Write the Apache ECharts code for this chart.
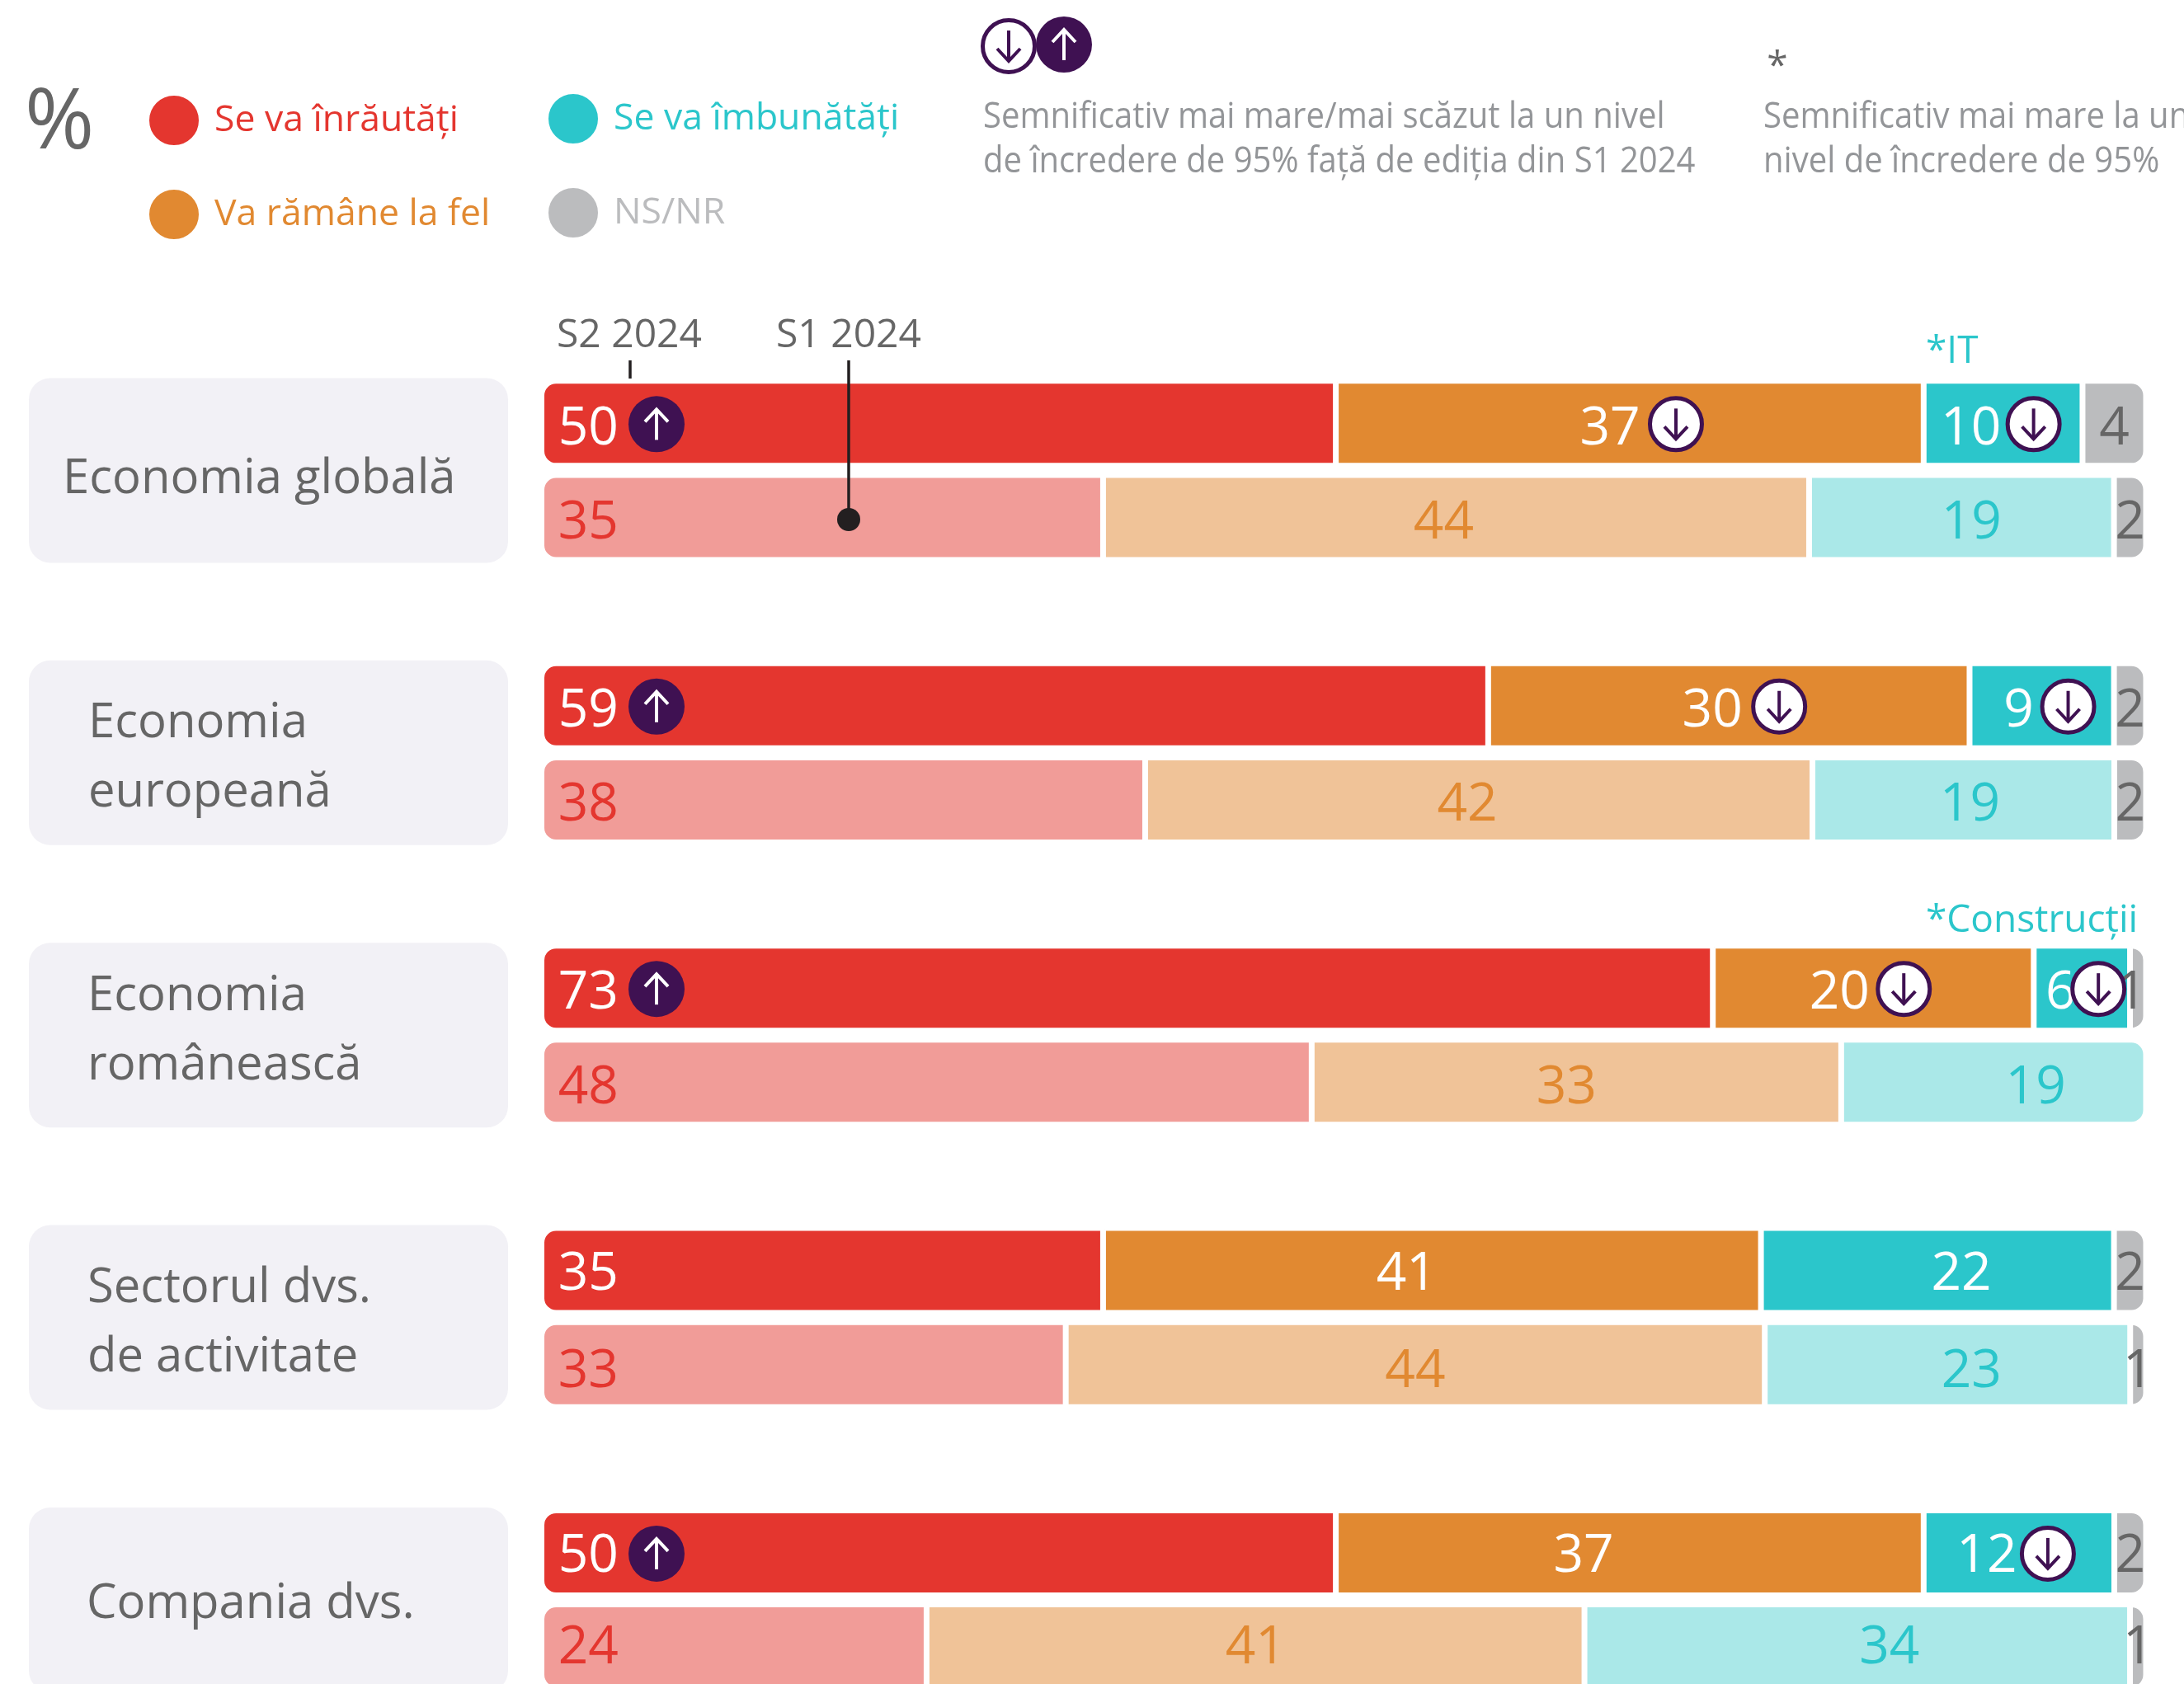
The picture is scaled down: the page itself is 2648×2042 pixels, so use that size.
<!DOCTYPE html>
<html><head><meta charset="utf-8">
<style>html,body{margin:0;padding:0;background:#fff;overflow:hidden}#wrap{width:2648px;height:2042px;overflow:hidden}#c{width:2648px;height:2160px}</style>
<script src="https://cdn.jsdelivr.net/npm/echarts@6/dist/echarts.min.js"></script>
</head><body><div id="wrap"><div id="c"></div></div>
<script>
// ---- data ----
const rowNames = ['Economia globală', 'Economia\neuropeană', 'Economia\nromânească', 'Sectorul dvs.\nde activitate', 'Compania dvs.'];
const periods = ['S2 2024', 'S1 2024'];
const seriesNames = ['Se va înrăutăți', 'Va rămâne la fel', 'Se va îmbunătăți', 'NS/NR'];
const worseS2  = [50, 59, 73, 35, 50];
const sameS2   = [37, 30, 20, 41, 37];
const betterS2 = [10,  9,  6, 22, 12];
const nsS2     = [ 4,  2,  1,  2,  2];
const worseS1  = [35, 38, 48, 33, 24];
const sameS1   = [44, 42, 33, 44, 41];
const betterS1 = [19, 19, 19, 23, 34];
const nsS1     = [ 2,  2, null, 1,  1];
// significance flags for S2 2024 (u = higher, d = lower)
const sigWorse  = ['u', 'u', 'u', null, 'u'];
const sigSame   = ['d', 'd', 'd', null, null];
const sigBetter = ['d', 'd', 'd', null, 'd'];
const notes = {0: '*IT', 2: '*Construcții'};
const note1 = 'Semnificativ mai mare/mai scăzut la un nivel\nde încredere de 95% față de ediția din S1 2024';
const note2 = 'Semnificativ mai mare la un\nnivel de încredere de 95%';

// ---- layout and style ----
const FONT = '"Open Sans"';
const RED='#E4362F', ORANGE='#E18931', TEAL='#2BC6CB', GREY='#BBBCBE', PURPLE='#3F1152', TXT='#666666', NOTE='#939598';
const solid = [RED, ORANGE, TEAL, GREY], tint = ['#F19C98', '#F0C398', '#AAE8E8', GREY];
const labelCol = [RED, ORANGE, TEAL, TXT];
const SLOT = 114.13, PITCH = 3, TOP = 456.3;
const L = 656.5, W = 1945.5;
const RAD = 16;
const LABEL_DY = 7;
const labelDyByPeriod = [[0, 0, 0, -2, -2], [0, 0, 0, 2, -5]];
const boxTextX = [76, 107, 106, 106, 105];
const boxTextDy = [11, 7, -5, 7, 5];
const noteDy = {0: -86, 2: -81};
const dxSameS2 = [-24, -20, -41, -31, -56], dxSameS1 = [-15, -14, -12, 0, 0];
const dxBetterS2 = [-39, -28, -26, 29, -39], dxBetterS1 = [12, 8, 51, 29, 39];
const dxNsS2 = [0, 0, -8, 0, 0];
const badgeDxSame = [56, 61, 37, 0, 0], badgeDxBetter = [37, 32, 20, 0, 35];
const RED_LABEL_X = 55, RED_BADGE_X = 136;

// ---- build ----
const nRows = rowNames.length;
const sets = [[worseS2, sameS2, betterS2, nsS2], [worseS1, sameS1, betterS1, nsS1]];
const dxs = [[null, dxSameS2, dxBetterS2, dxNsS2], [null, dxSameS1, dxBetterS1, [0,0,0,0,0]]];
const slots = [];
for (let r = 0; r < nRows; r++) { slots.push(rowNames[r] + ' ' + periods[0], rowNames[r] + ' ' + periods[1]); if (r < nRows - 1) slots.push(' ' + r); }
const series = seriesNames.map((name, s) => {
  const data = new Array(slots.length).fill(null);
  for (let r = 0; r < nRows; r++) for (let p = 0; p < 2; p++) {
    const v = sets[p][s][r];
    if (v == null) continue;
    const vals = sets[p].map(a => a[r] || 0);
    const sum = vals.reduce((a, b) => a + b, 0);
    const last = vals.reduce((acc, x, i) => x ? i : acc, 0);
    const pct = v / sum * 100;
    const lab = { color: p === 0 && s < 3 ? '#fff' : labelCol[s] };
    const dy = LABEL_DY + labelDyByPeriod[p][r];
    if (s === 0) { lab.position = [RED_LABEL_X + 1.75, '50%']; lab.align = 'center'; lab.verticalAlign = 'middle'; lab.offset = [0, dy]; }
    else lab.offset = [dxs[p][s][r], dy];
    data[r * PITCH + p] = {
      value: pct, raw: v, label: lab,
      itemStyle: { color: p === 0 ? solid[s] : tint[s], borderRadius: [s === 0 ? RAD : 0, s === last ? RAD : 0, s === last ? RAD : 0, s === 0 ? RAD : 0] }
    };
  }
  return {
    name, type: 'bar', stack: 'all', barWidth: 103, z: 2, color: solid[s],
    itemStyle: { color: solid[s], borderColor: '#fff', borderWidth: 3.5 },
    label: { show: true, position: 'inside', fontFamily: FONT, fontSize: 64, formatter: p => p.data.raw },
    emphasis: { disabled: true }, data
  };
});
// row label boxes
const boxData = rowNames.map((n, r) => [r * PITCH, r]);
series.push({
  type: 'custom', coordinateSystem: 'cartesian2d', z: 1, silent: true, clip: false, data: boxData,
  renderItem(params, api) {
    const r = api.value(1), y = api.coord([0, api.value(0)])[1] + SLOT / 2;
    return { type: 'group', children: [
      { type: 'rect', shape: { x: 35, y: y - 112, width: 581, height: 224, r: 26 }, style: { fill: '#F2F1F6' } },
      { type: 'text', style: { x: boxTextX[r], y: y + boxTextDy[r], text: rowNames[r], fill: TXT, font: '58px ' + FONT, lineHeight: 84, textAlign: 'left', textVerticalAlign: 'middle' } }
    ]};
  }
});
// significance badges
const badges = [];
for (let r = 0; r < nRows; r++) {
  const vals = sets[0].map(a => a[r]), sum = vals.reduce((a, b) => a + b, 0);
  const startS = vals[0] / sum * 100, startB = (vals[0] + vals[1]) / sum * 100;
  if (sigWorse[r]) badges.push([0, r * PITCH, RED_BADGE_X + 3.5, sigWorse[r] === 'u' ? 1 : 0]);
  if (sigSame[r]) badges.push([startS + vals[1] / sum * 50, r * PITCH, badgeDxSame[r], sigSame[r] === 'u' ? 1 : 0]);
  if (sigBetter[r]) badges.push([startB + vals[2] / sum * 50, r * PITCH, badgeDxBetter[r], sigBetter[r] === 'u' ? 1 : 0]);
}
function badgeShape(cx, cy, up) {
  const c = up ? '#fff' : PURPLE, sgn = up ? -1 : 1;
  return [
    { type: 'circle', shape: { cx, cy, r: up ? 34 : 31.5 }, style: { fill: up ? PURPLE : '#fff', stroke: up ? null : PURPLE, lineWidth: up ? 0 : 5 }, z2: 10 },
    { type: 'polyline', shape: { points: [[cx, cy - sgn * 19], [cx, cy + sgn * 18]] }, style: { stroke: c, lineWidth: 4, fill: null }, z2: 11 },
    { type: 'polyline', shape: { points: [[cx - 14, cy + sgn * 3], [cx, cy + sgn * 18], [cx + 14, cy + sgn * 3]] }, style: { stroke: c, lineWidth: 4, fill: null }, z2: 11 }
  ];
}
series.push({
  type: 'custom', coordinateSystem: 'cartesian2d', z: 6, silent: true, clip: false, data: badges,
  encode: { x: 0, y: 1 },
  renderItem(params, api) {
    const p = api.coord([api.value(0), api.value(1)]);
    return { type: 'group', children: badgeShape(p[0] + api.value(2), p[1] + 1, api.value(3) === 1) };
  }
});
// segment notes
const noteData = Object.keys(notes).map(k => [+k * PITCH, +k]);
series.push({
  type: 'custom', coordinateSystem: 'cartesian2d', z: 5, silent: true, clip: false, data: noteData,
  renderItem(params, api) {
    const y = api.coord([0, api.value(0)])[1];
    return { type: 'text', style: { x: 2335, y: y + noteDy[api.value(1)], text: notes[api.value(1)], fill: TEAL, font: '46px ' + FONT, textAlign: 'left', textVerticalAlign: 'middle' } };
  }
});
const legendText = { fontFamily: FONT, fontSize: 44.5, padding: [0, 0, 0, 13] };
const option = {
  animation: false, backgroundColor: '#fff',
  grid: { left: L, top: TOP, width: W, height: SLOT * slots.length, containLabel: false },
  xAxis: { type: 'value', min: 0, max: 100, show: false },
  yAxis: { type: 'category', data: slots, inverse: true, show: false },
  legend: [
    { data: [seriesNames[0], seriesNames[1]], left: 174, top: 109, orient: 'vertical', itemGap: 50, itemWidth: 62, itemHeight: 62, icon: 'circle', selectedMode: false, textStyle: legendText },
    { data: [seriesNames[2], seriesNames[3]], left: 658, top: 107, orient: 'vertical', itemGap: 50, itemWidth: 62, itemHeight: 62, icon: 'circle', selectedMode: false, textStyle: legendText }
  ],
  series,
  graphic: { elements: [
    { type: 'text', left: 30, top: 100, z: 10, style: { text: '%', font: '500 102px ' + FONT, fill: TXT } },
    { type: 'text', z: 10, style: { x: 763, y: 407, text: periods[0], font: '48px ' + FONT, fill: TXT, textAlign: 'center', textVerticalAlign: 'middle' } },
    { type: 'text', z: 10, style: { x: 1029, y: 407, text: periods[1], font: '48px ' + FONT, fill: TXT, textAlign: 'center', textVerticalAlign: 'middle' } },
    { type: 'line', z: 10, shape: { x1: 764, y1: 437, x2: 764, y2: 459 }, style: { stroke: '#231F20', lineWidth: 3.5 } },
    { type: 'line', z: 10, shape: { x1: 1029, y1: 437, x2: 1029, y2: 630 }, style: { stroke: '#231F20', lineWidth: 3.5 } },
    { type: 'circle', z: 10, shape: { cx: 1029, cy: 630, r: 14 }, style: { fill: '#231F20' } },
    { type: 'group', z: 10, children: badgeShape(1223, 56, false) },
    { type: 'group', z: 10, children: badgeShape(1290, 54, true) },
    { type: 'text', z: 10, x: 1192, y: 169, scaleX: 0.91, style: { x: 0, y: 0, text: note1, font: '44px ' + FONT, fill: NOTE, lineHeight: 54, textAlign: 'left', textVerticalAlign: 'middle' } },
    { type: 'text', z: 10, x: 2138, y: 169, scaleX: 0.91, style: { x: 0, y: 0, text: note2, font: '44px ' + FONT, fill: NOTE, lineHeight: 54, textAlign: 'left', textVerticalAlign: 'middle' } },
    { type: 'text', z: 10, style: { x: 2155, y: 82, text: '*', font: '46px ' + FONT, fill: TXT, textAlign: 'center', textVerticalAlign: 'middle' } }
  ]}
};
// legend text colours
[0, 1].forEach(g => option.legend[g].data = option.legend[g].data.map(n => ({ name: n, textStyle: { color: labelCol[seriesNames.indexOf(n)] === TXT ? GREY : labelCol[seriesNames.indexOf(n)] } })));
echarts.init(document.getElementById('c')).setOption(option);
</script></body></html>
